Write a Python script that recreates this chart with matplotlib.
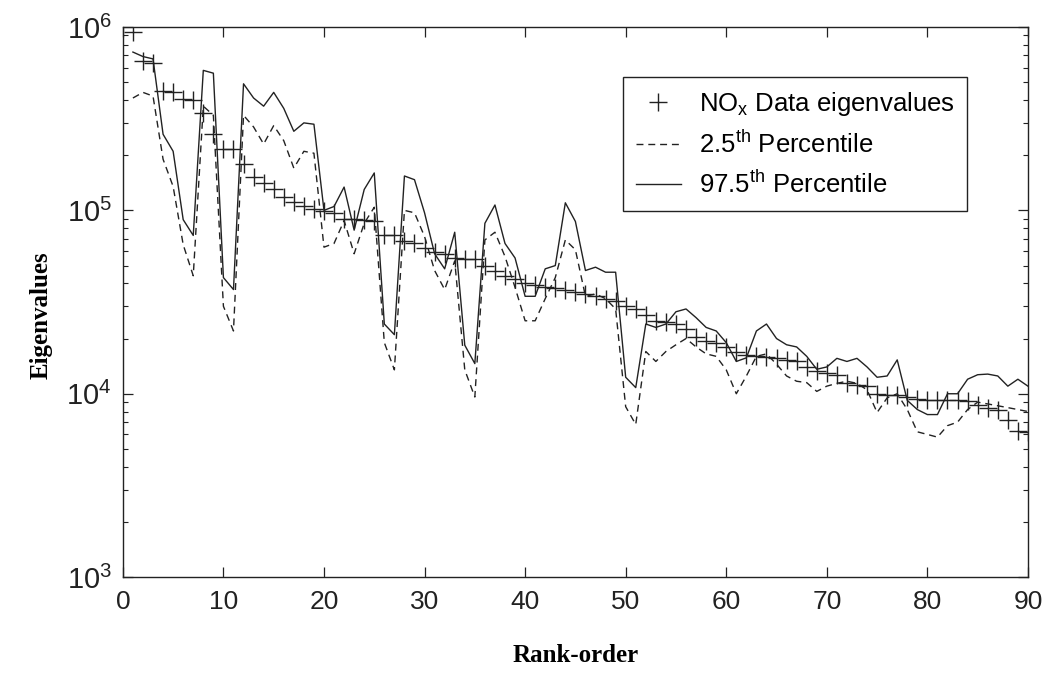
import matplotlib.pyplot as plt
import numpy as np
from matplotlib.ticker import LogLocator, NullFormatter, FixedLocator

plt.rcParams['font.family'] = ['Liberation Sans', 'DejaVu Sans']
plt.rcParams['mathtext.fontset'] = 'custom'
plt.rcParams['mathtext.rm'] = 'Liberation Sans'
plt.rcParams['mathtext.it'] = 'Liberation Sans'
plt.rcParams['mathtext.default'] = 'regular'

# Rank-order 1..90
rank = np.arange(1, 91)

# NOx data eigenvalues (crosses)
eig = [9.4e5, 6.5e5, 6.4e5, 4.5e5, 4.4e5, 4.05e5, 4.0e5, 3.4e5, 2.6e5, 2.16e5,
       2.15e5, 1.8e5, 1.53e5, 1.41e5, 1.31e5, 1.19e5, 1.11e5, 1.05e5, 1.02e5, 9.9e4,
       9.7e4, 9.0e4, 9.0e4, 8.9e4, 8.7e4, 7.3e4, 7.3e4, 6.8e4, 6.6e4, 6.2e4,
       5.9e4, 5.8e4, 5.5e4, 5.4e4, 5.4e4, 5.0e4, 4.7e4, 4.4e4, 4.2e4, 4.0e4,
       3.9e4, 3.8e4, 3.75e4, 3.7e4, 3.6e4, 3.5e4, 3.4e4, 3.3e4, 3.2e4, 3.0e4,
       2.9e4, 2.7e4, 2.5e4, 2.45e4, 2.4e4, 2.25e4, 2.05e4, 1.95e4, 1.9e4, 1.8e4,
       1.68e4, 1.62e4, 1.6e4, 1.58e4, 1.56e4, 1.53e4, 1.5e4, 1.4e4, 1.33e4, 1.3e4,
       1.27e4, 1.15e4, 1.12e4, 1.1e4, 1.0e4, 9.9e3, 9.8e3, 9.6e3, 9.4e3, 9.3e3,
       9.3e3, 9.3e3, 9.2e3, 9.1e3, 8.7e3, 8.4e3, 8.2e3, 7.2e3, 6.3e3, 6.2e3]

# 2.5th percentile (dashed)
p025 = [4.1e5, 4.4e5, 4.2e5, 1.9e5, 1.35e5, 6.5e4, 4.4e4, 3.7e5, 3.3e5, 3.0e4,
        2.2e4, 3.3e5, 2.85e5, 2.3e5, 2.9e5, 2.4e5, 1.7e5, 2.1e5, 2.05e5, 6.3e4,
        6.6e4, 8.8e4, 5.8e4, 8.5e4, 1.04e5, 1.9e4, 1.35e4, 1.0e5, 9.7e4, 7.2e4,
        4.7e4, 3.7e4, 5.3e4, 1.35e4, 9.6e3, 6.9e4, 7.6e4, 5.6e4, 3.8e4, 2.5e4,
        2.5e4, 3.3e4, 4.3e4, 6.9e4, 6.1e4, 3.4e4, 3.5e4, 3.3e4, 2.9e4, 8.5e3,
        6.8e3, 1.7e4, 1.5e4, 1.7e4, 1.85e4, 2.0e4, 1.8e4, 1.65e4, 1.6e4, 1.35e4,
        1.0e4, 1.25e4, 1.6e4, 1.65e4, 1.45e4, 1.25e4, 1.17e4, 1.15e4, 1.03e4, 1.1e4,
        1.14e4, 1.17e4, 1.14e4, 1.05e4, 7.9e3, 9.5e3, 1.0e4, 8.2e3, 6.2e3, 6.0e3,
        5.8e3, 6.7e3, 7.0e3, 8.2e3, 9.0e3, 8.8e3, 8.6e3, 8.4e3, 8.2e3, 8.0e3]

# 97.5th percentile (solid)
p975 = [7.3e5, 6.9e5, 6.7e5, 2.6e5, 2.1e5, 8.9e4, 7.3e4, 5.8e5, 5.6e5, 4.3e4,
        3.7e4, 4.9e5, 4.1e5, 3.7e5, 4.4e5, 3.6e5, 2.7e5, 3.0e5, 2.95e5, 1.0e5,
        1.05e5, 1.34e5, 7.8e4, 1.3e5, 1.6e5, 2.4e4, 2.1e4, 1.54e5, 1.47e5, 9.7e4,
        5.8e4, 4.8e4, 7.6e4, 1.84e4, 1.46e4, 8.5e4, 1.07e5, 6.6e4, 5.5e4, 3.4e4,
        3.4e4, 4.8e4, 5.0e4, 1.1e5, 8.7e4, 4.7e4, 4.9e4, 4.6e4, 4.6e4, 1.23e4,
        1.08e4, 2.4e4, 2.3e4, 2.4e4, 2.8e4, 2.9e4, 2.6e4, 2.3e4, 2.2e4, 1.9e4,
        1.5e4, 1.57e4, 2.2e4, 2.4e4, 2.0e4, 1.85e4, 1.8e4, 1.6e4, 1.36e4, 1.4e4,
        1.56e4, 1.5e4, 1.56e4, 1.4e4, 1.23e4, 1.25e4, 1.53e4, 9.2e3, 8.2e3, 7.7e3,
        7.7e3, 1.0e4, 1.0e4, 1.2e4, 1.27e4, 1.28e4, 1.25e4, 1.1e4, 1.2e4, 1.1e4]

fig = plt.figure(figsize=(10.5, 6.75), dpi=100)
ax = fig.add_axes([0.117, 0.145, 0.862, 0.815])

ax.plot(rank, eig, linestyle='none', marker='+', color='#222222',
        markersize=13, markeredgewidth=1.0, label='NO$_{x}$ Data eigenvalues')
ax.plot(rank, p025, color='#222222', linewidth=1.0, dashes=(5, 3.5),
        label='2.5$^{th}$ Percentile')
ax.plot(rank, p975, color='#222222', linewidth=1.0,
        label='97.5$^{th}$ Percentile')

ax.set_yscale('log')
ax.set_xlim(0, 90)
ax.set_ylim(1e3, 1e6)
ax.xaxis.set_major_locator(FixedLocator(np.arange(0, 91, 10)))
ax.yaxis.set_major_locator(LogLocator(base=10, numticks=10))
ax.yaxis.set_minor_locator(LogLocator(base=10, subs=np.arange(2, 10), numticks=20))
ax.yaxis.set_minor_formatter(NullFormatter())

ax.tick_params(which='both', direction='in', top=True, right=True,
               colors='#222222')
ax.tick_params(which='major', length=7, width=0.9)
ax.tick_params(which='minor', length=3.5, width=0.8)
ax.tick_params(axis='x', labelsize=19, pad=9)
ax.tick_params(axis='y', labelsize=21, pad=8)
for s in ax.spines.values():
    s.set_linewidth(1.0)
    s.set_color('#222222')

ax.set_xlabel('Rank-order', fontsize=18, fontweight='bold',
              family=['Liberation Serif'], labelpad=22)
ax.set_ylabel('Eigenvalues', fontsize=18, fontweight='bold',
              family=['Liberation Serif'])
ax.yaxis.set_label_coords(-0.078, 0.476)

leg = ax.legend(loc='upper right', bbox_to_anchor=(0.933, 0.909),
                borderaxespad=0, fontsize=18.5, fancybox=False,
                edgecolor='#222222', framealpha=1, handlelength=1.75,
                handletextpad=0.7, borderpad=0.5, labelspacing=0.5)
leg.get_frame().set_linewidth(1.0)

fig.savefig('out.png', dpi=100)
